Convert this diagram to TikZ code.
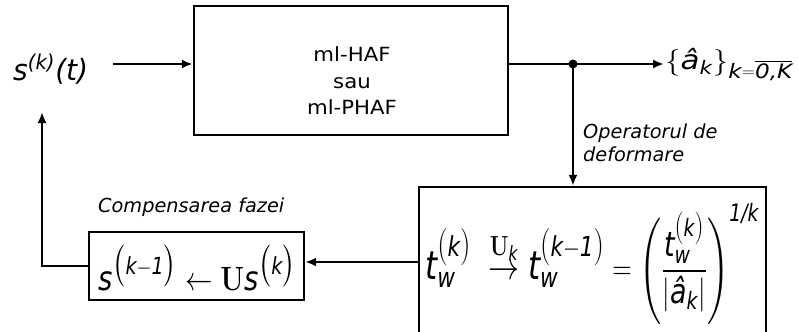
\RequirePackage{fix-cm}
\documentclass[tikz,border=0pt]{standalone}
\usepackage{amsmath}
\usepackage{graphicx}
\usepackage[no-math]{fontspec}
\setmainfont{DejaVu Sans}
\usetikzlibrary{arrows.meta}
\newcommand\vv[1]{\text{\itshape #1}}
\newcommand\fitbox[3]{\resizebox*{#1}{#2}{\fontsize{20}{24}\selectfont#3}}
\newcommand\pk[1]{\mbox{\fontsize{19}{19}\selectfont$($\fontsize{14}{14}\selectfont\itshape #1\fontsize{19}{19}\selectfont$)$}}
\begin{document}
\begin{tikzpicture}[x=1pt,y=-1pt,line width=2.4pt,
  >={Latex[length=11pt,width=9pt]},
  box/.style={draw,line width=2.4pt,inner sep=0pt},
  lbl/.style={inner sep=0pt,align=center},
  note/.style={inner sep=0pt,align=left,font=\fontsize{19.3}{23}\selectfont\itshape}]
\useasboundingbox (0,0) rectangle (798,332);
\clip (0,0) rectangle (798,332);
% boxes
\node[box,minimum width=314pt,minimum height=129pt] (haf) at (351,70.5) {};
\node[lbl,font=\fontsize{19.5}{26.5}\selectfont] (haft) at (352,83)
  {\scalebox{1.09}[1]{\begin{tabular}{@{}c@{}}ml-HAF\\sau\\ml-PHAF\end{tabular}}};
\node[box,minimum width=347pt,minimum height=150pt] (op) at (592.5,262) {};
\node[box,minimum width=215pt,minimum height=68pt] (comp) at (196.5,266) {};
% labels
\node[lbl,anchor=north west] (sk) at (12,53)
  {\fitbox{75pt}{30pt}{$\vv{s}^{\vv{(k)}}\vv{(t)}$}};
\coordinate (in) at (113,64);
\coordinate (dot) at (573,64);
\node[lbl,anchor=north west] (out) at (664,47)
  {\fitbox{128pt}{33pt}{$\left\{\vv{â}_{\vv{k}}\right\}_{\mbox{\fontsize{15}{15}\selectfont\itshape k\raisebox{1.5pt}{\fontsize{11}{11}\selectfont$=$}$\overline{\mbox{\itshape 0,K}}$}}$}};
\node[note,anchor=west] (opn) at (582,143) {Operatorul de\\deformare};
\node[note,anchor=south west] (cpn) at (97,218) {Compensarea fazei};
\node[lbl,anchor=north west] (cf) at (97,244)
  {\fitbox{198pt}{46pt}{$\vv{s}^{\bigl(\vv{k}-\vv{1}\bigr)}\leftarrow\mathbf{U}\vv{s}^{\bigl(\vv{k}\bigr)}$}};
\node[lbl,anchor=north west] (of) at (424,202)
  {\fitbox{334pt}{121pt}{\delimitershortfall=9pt$\scalebox{1.15}{$\vv{t}_{\vv{w}}^{\pk{k}}\;\overset{\mathbf{U}_{\vv{k}}}{\rightarrow}\vv{t}_{\vv{w}}^{\pk{k{\upshape$-$}1}}$}=\left(\dfrac{\vv{t}_{\vv{w}}^{\pk{k}}}{\left|\vv{â}_{\vv{k}}\right|}\right)^{\vv{1/k}}$}};
\coordinate (fb) at (42,112);
% connectors
\draw[->] (in) -- (haf.west |- in);
\draw (haf.east |- dot) -- (dot);
\draw[->] (dot) -- (out.west |- dot);
\fill (dot) circle (4.5pt);
\draw[->] (dot) -- (dot |- op.north);
\draw[->] (op.west |- 0,262) -- (comp.east |- 0,262);
\draw[->] (comp.west) -- (fb |- comp.west) -- (fb);
\end{tikzpicture}
\end{document}
